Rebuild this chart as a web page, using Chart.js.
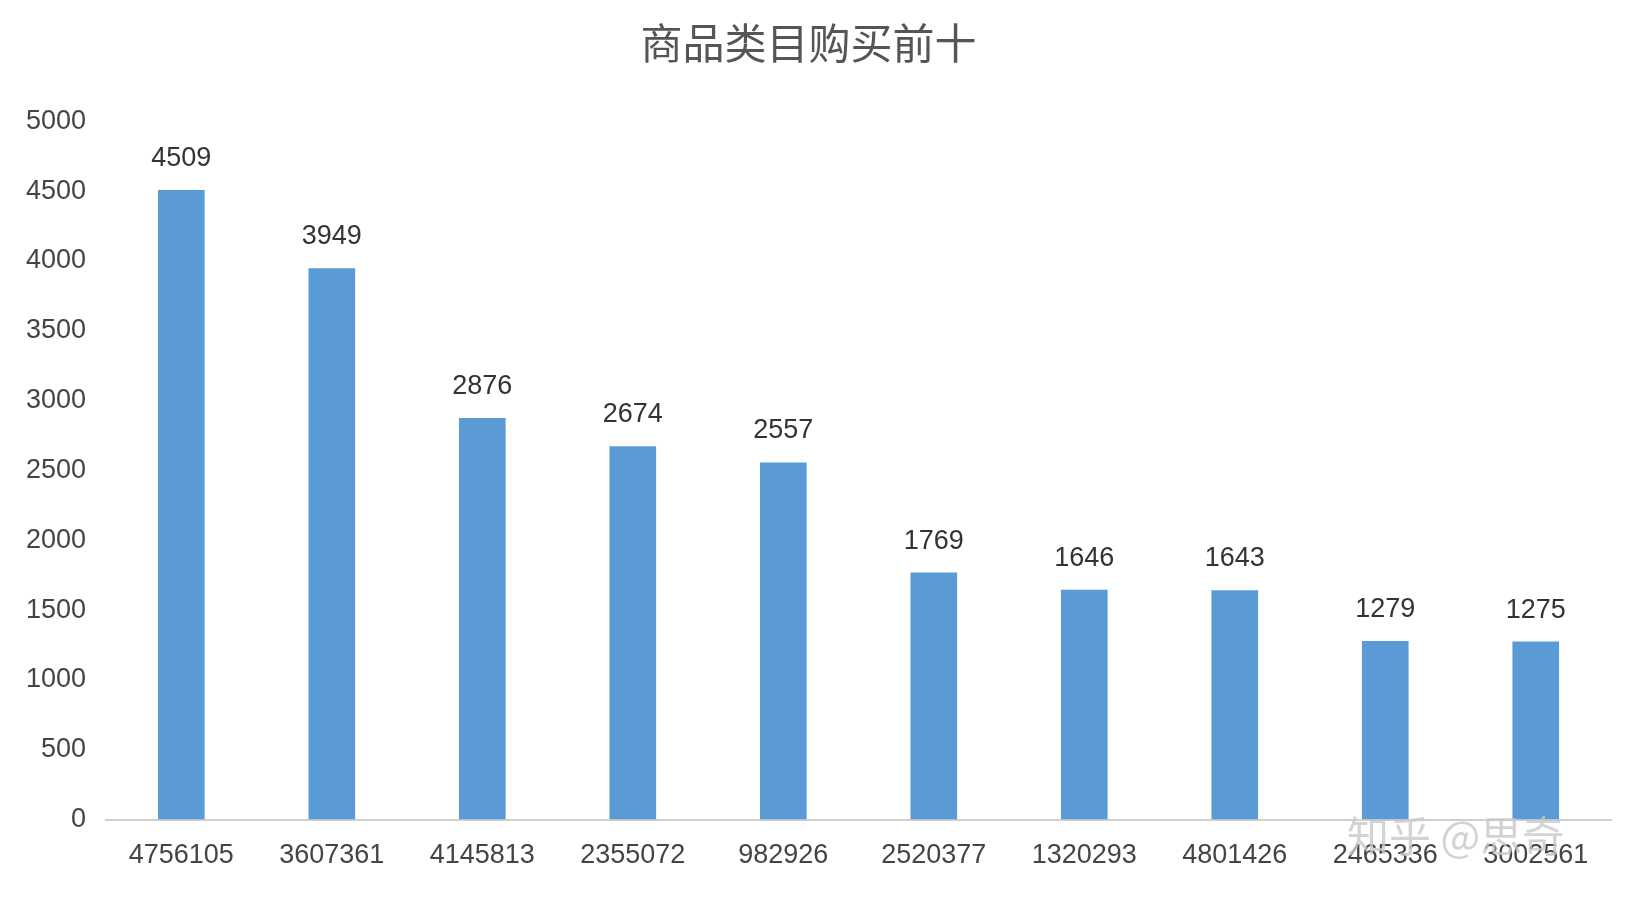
<!DOCTYPE html>
<html><head><meta charset="utf-8">
<script src="https://cdn.jsdelivr.net/npm/chart.js@4/dist/chart.umd.min.js"></script>
<style>html,body{margin:0;background:#fff}#wrap{width:1646px;height:904px;position:relative}
#wm{position:absolute;left:1347px;top:803px;font:42px "Noto Sans CJK SC";color:rgba(200,200,200,0.8)}</style>
</head><body><div id="wrap"><canvas id="c" width="1646" height="904"></canvas><div id="wm">知乎 @思奇</div></div>
<script>
const categories = ['4756105','3607361','4145813','2355072','982926','2520377','1320293','4801426','2465336','3002561'];
const purchases = [4509,3949,2876,2674,2557,1769,1646,1643,1279,1275];
const yTicks = [0,500,1000,1500,2000,2500,3000,3500,4000,4500,5000];

const labelPlugin = {
  id: 'vals',
  afterDatasetsDraw(chart) {
    const ctx = chart.ctx;
    ctx.save();
    ctx.font = '27px "Liberation Sans", Arial';
    ctx.fillStyle = '#333';
    ctx.textAlign = 'center';
    ctx.textBaseline = 'bottom';
    chart.getDatasetMeta(0).data.forEach((b, i) => ctx.fillText(purchases[i], b.x, b.y - 18));
    ctx.restore();
  }
};

new Chart(document.getElementById('c'), {
  type: 'bar',
  data: { labels: categories, datasets: [{ data: purchases, backgroundColor: '#5b9bd5', categoryPercentage: 1, barPercentage: 0.31 }] },
  options: {
    responsive: false, animation: false, devicePixelRatio: 1,
    layout: { padding: { left: 6, right: 35, top: 0, bottom: 12 } },
    plugins: {
      legend: { display: false }, tooltip: { enabled: false },
      title: { display: true, text: '商品类目购买前十', color: '#555',
        font: { family: '"Noto Sans CJK SC"', size: 42, weight: 'normal' }, padding: { top: 18, bottom: 53 } }
    },
    scales: {
      x: { grid: { display: false, drawTicks: false }, border: { color: '#d0d0d0', width: 2 },
        ticks: { color: '#444', padding: 20, font: { family: '"Liberation Sans", Arial', size: 27 } } },
      y: { min: 0, max: 5000, afterBuildTicks(s) { s.ticks = yTicks.map(v => ({ value: v })); },
        grid: { display: false, drawTicks: false }, border: { display: false },
        ticks: { color: '#444', padding: 20, callback: v => String(v), font: { family: '"Liberation Sans", Arial', size: 27 } } }
    }
  },
  plugins: [labelPlugin]
});
</script></body></html>
